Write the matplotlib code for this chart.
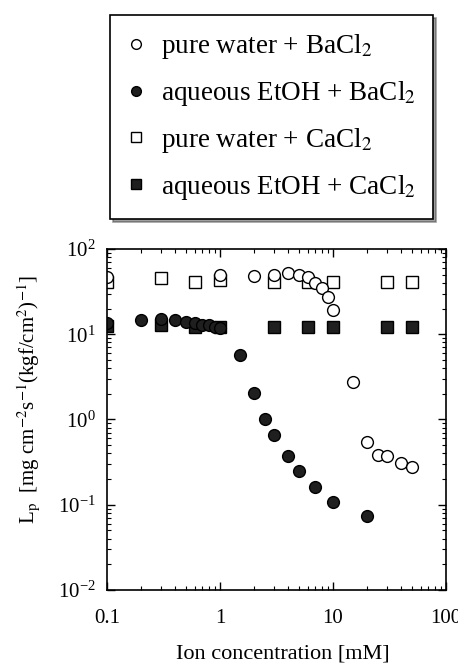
import numpy as np
import matplotlib
matplotlib.use('Agg')
import matplotlib.pyplot as plt
from matplotlib.lines import Line2D

plt.rcParams['font.family'] = ['Liberation Serif', 'DejaVu Serif']
plt.rcParams['mathtext.fontset'] = 'stix'

# pure water + BaCl2 (open circles)
pw_ba_x = [0.1, 1.0, 2.0, 3.0, 4.0, 5.0, 6.0, 7.0, 8.0, 9.0, 10.0, 15.0, 20.0, 25.0, 30.0, 40.0, 50.0]
pw_ba_y = [47, 49, 48, 50, 52, 50, 47, 40, 35, 27, 19, 2.75, 0.55, 0.385, 0.37, 0.31, 0.28]

# aqueous EtOH + BaCl2 (filled circles)
eo_ba_x = [0.1, 0.2, 0.3, 0.4, 0.5, 0.6, 0.7, 0.8, 0.9, 1.0, 1.5, 2.0, 2.5, 3.0, 4.0, 5.0, 7.0, 10.0, 20.0]
eo_ba_y = [13.5, 14.7, 15, 14.5, 14, 13.5, 13, 12.8, 12.3, 11.8, 5.7, 2.05, 1.0, 0.66, 0.37, 0.25, 0.16, 0.107, 0.074]

# pure water + CaCl2 (open squares)
pw_ca_x = [0.1, 0.3, 0.6, 1.0, 3.0, 6.0, 10.0, 30.0, 50.0]
pw_ca_y = [41, 46, 41, 43, 41, 41, 41, 41, 41]

# aqueous EtOH + CaCl2 (filled squares)
eo_ca_x = [0.1, 0.3, 0.6, 1.0, 3.0, 6.0, 10.0, 30.0, 50.0]
eo_ca_y = [12.5, 12.8, 12.3, 12.3, 12.3, 12.3, 12.3, 12.3, 12.3]

labels = [r'pure water + BaCl$_2$', r'aqueous EtOH + BaCl$_2$',
          r'pure water + CaCl$_2$', r'aqueous EtOH + CaCl$_2$']

fill = '0.12'

fig = plt.figure(figsize=(4.58, 6.72), dpi=100)
ax = fig.add_axes([0.2336, 0.122, 0.7402, 0.5075])

ax.plot(pw_ca_x, pw_ca_y, 's', ms=8.5, mfc='white', mec='black', mew=1.0, ls='none')
ax.plot(eo_ca_x, eo_ca_y, 's', ms=8.5, mfc=fill, mec='black', mew=1.0, ls='none')
ax.plot(pw_ba_x, pw_ba_y, 'o', ms=8.5, mfc='white', mec='black', mew=1.0, ls='none')
ax.plot(eo_ba_x, eo_ba_y, 'o', ms=8.5, mfc=fill, mec='black', mew=1.0, ls='none')

ax.set_xscale('log')
ax.set_yscale('log')
ax.set_xlim(0.1, 100)
ax.set_ylim(1e-2, 1e2)
ax.set_xticks([0.1, 1, 10, 100])
ax.set_xticklabels(['0.1', '1', '10', '100'])
ax.tick_params(which='both', direction='in', top=True, right=True, labelsize=15)
ax.tick_params(which='major', length=6, width=1)
ax.tick_params(which='minor', length=3, width=0.8)
ax.tick_params(axis='x', pad=14)
ax.tick_params(axis='y', pad=8)
for s in ax.spines.values():
    s.set_linewidth(1.2)

ax.set_xlabel('Ion concentration [mM]', fontsize=16)
ax.xaxis.set_label_coords(0.52, -0.16)
ax.set_ylabel(r'L$_\mathrm{p}$  [mg cm$^{-2}$s$^{-1}$(kgf/cm$^{2}$)$^{-1}$]', fontsize=15)
ax.yaxis.set_label_coords(-0.191, 0.557)

handles = [
    Line2D([], [], marker='o', ls='none', ms=7, mfc='white', mec='black', mew=1.0),
    Line2D([], [], marker='o', ls='none', ms=7, mfc=fill, mec='black', mew=1.0),
    Line2D([], [], marker='s', ls='none', ms=7, mfc='white', mec='black', mew=1.0),
    Line2D([], [], marker='s', ls='none', ms=7, mfc=fill, mec='black', mew=1.0),
]
leg = fig.legend(handles, labels, loc='upper left', bbox_to_anchor=(0.240, 0.978),
                 fontsize=19.5, frameon=True, fancybox=False, shadow={'color': '0.25'},
                 handlelength=0.65, handletextpad=0.6, labelspacing=0.66,
                 borderpad=0.64, borderaxespad=0, edgecolor='black')
leg.get_frame().set_linewidth(1.2)

fig.savefig('out.png', dpi=100)
